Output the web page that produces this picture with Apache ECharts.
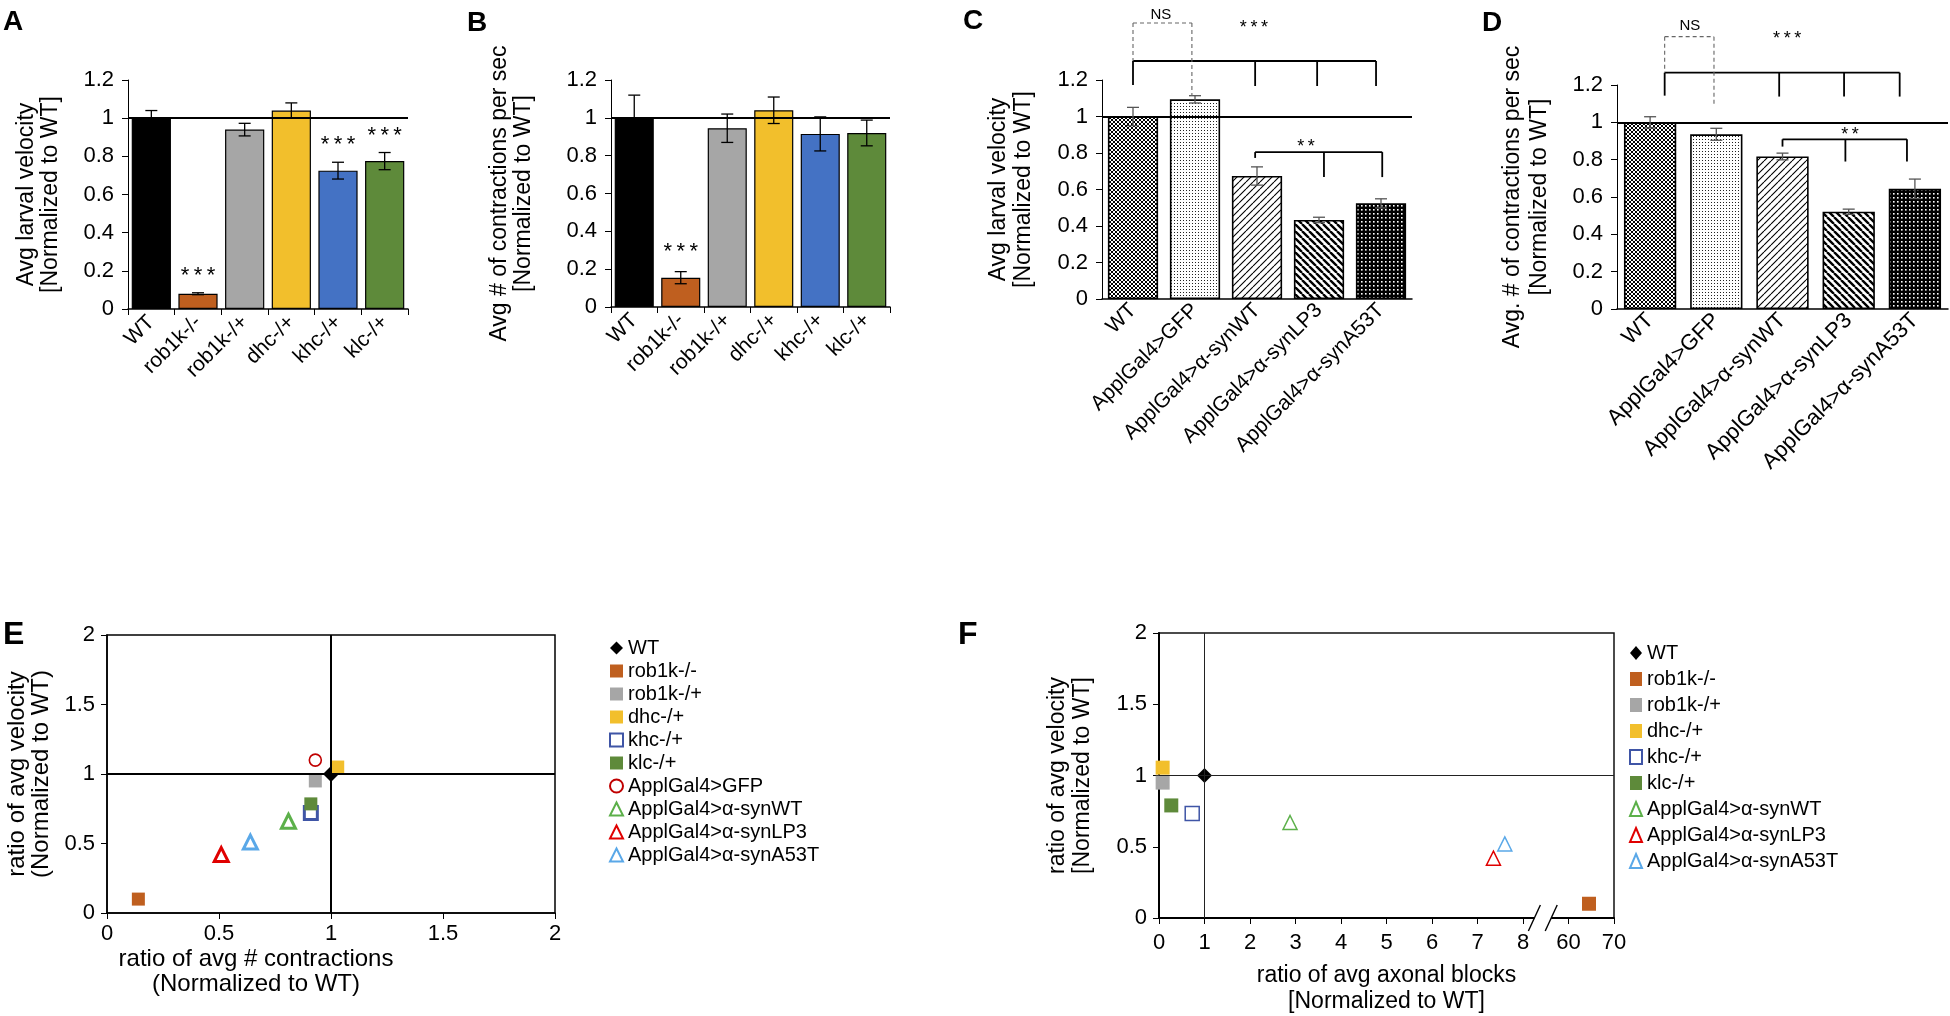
<!DOCTYPE html>
<html><head><meta charset="utf-8">
<script src="https://cdn.jsdelivr.net/npm/echarts@6/dist/echarts.min.js"></script>
<style>html,body{margin:0;padding:0;background:#fff}#c{width:1950px;height:1016px}</style>
</head><body><div id="c"></div>
<script>
const FONT = '"Liberation Sans", Arial, Helvetica, sans-serif';

// ---------- Panels A / B ----------
const catsAB = ['WT', 'rob1k-/-', 'rob1k-/+', 'dhc-/+', 'khc-/+', 'klc-/+'];
const velA = [1.0, 0.08, 0.94, 1.04, 0.725, 0.775];
const errA = [0.04, 0.005, 0.033, 0.04, 0.044, 0.045];
const sigA = ['', '***', '', '', '***', '***'];
const contrB = [1.0, 0.155, 0.945, 1.04, 0.915, 0.92];
const errB = [0.12, 0.032, 0.075, 0.07, 0.09, 0.068];
const sigB = ['', '***', '', '', '', ''];
const colorsAB = ['#000000', '#bf5f1f', '#a6a6a6', '#f2bf2c', '#4472c4', '#5e8a3a'];

// ---------- Panels C / D ----------
const catsCD = ['WT', 'ApplGal4>GFP', 'ApplGal4>α-synWT', 'ApplGal4>α-synLP3', 'ApplGal4>α-synA53T'];
const velC = [1.0, 1.094, 0.674, 0.433, 0.524];
const errC = [0.05, 0.02, 0.05, 0.015, 0.025];
const contrD = [1.0, 0.936, 0.817, 0.521, 0.644];
const errD = [0.03, 0.032, 0.018, 0.014, 0.052];
const patternsCD = ['cross', 'dots', 'fwd', 'back', 'dark'];

// significance brackets (category index, value)
const bracketsC = [
  { x1: 0, x2: 3.92, y: 1.304, legs: [[0, 1.173], [1.97, 1.167], [2.97, 1.167], [3.92, 1.167]], dashed: false },
  { x1: 0, x2: 0.95, y: 1.512, legs: [[0, 1.304], [0.95, 1.112]], dashed: true },
  { x1: 1.97, x2: 4.02, y: 0.805, legs: [[1.97, 0.773], [3.08, 0.668], [4.02, 0.668]], dashed: false }
];
const sigTextC = [['NS', 0.45, 1.556], ['***', 1.95, 1.5], ['**', 2.79, 0.85]];
const bracketsD = [
  { x1: 0.22, x2: 3.77, y: 1.266, legs: [[0.22, 1.143], [1.95, 1.138], [2.93, 1.138], [3.77, 1.138]], dashed: false },
  { x1: 0.22, x2: 0.965, y: 1.459, legs: [[0.22, 1.266], [0.965, 1.084]], dashed: true },
  { x1: 2.0, x2: 3.88, y: 0.909, legs: [[2.0, 0.87], [2.95, 0.79], [3.88, 0.79]], dashed: false }
];
const sigTextD = [['NS', 0.6, 1.516], ['***', 2.07, 1.462], ['**', 3.02, 0.949]];

// ---------- Panel E ----------
const groupsE = ['WT', 'rob1k-/-', 'rob1k-/+', 'dhc-/+', 'khc-/+', 'klc-/+', 'ApplGal4>GFP',
  'ApplGal4>α-synWT', 'ApplGal4>α-synLP3', 'ApplGal4>α-synA53T'];
const contrE = [1.0, 0.14, 0.93, 1.03, 0.91, 0.91, 0.93, 0.81, 0.51, 0.64];
const velE = [1.0, 0.10, 0.95, 1.05, 0.72, 0.785, 1.10, 0.66, 0.42, 0.51];

// ---------- Panel F ----------
const groupsF = ['WT', 'rob1k-/-', 'rob1k-/+', 'dhc-/+', 'khc-/+', 'klc-/+',
  'ApplGal4>α-synWT', 'ApplGal4>α-synLP3', 'ApplGal4>α-synA53T'];
const blocksF = [1.0, 64.5, 0.08, 0.08, 0.73, 0.27, 2.88, 7.35, 7.6];
const velF = [1.0, 0.10, 0.95, 1.055, 0.733, 0.79, 0.67, 0.42, 0.52];
const xTicksF = ['0', '1', '2', '3', '4', '5', '6', '7', '8', '60', '70'];

// marker styles by group
const markerStyle = {
  'WT': { symbol: 'diamond', color: '#000', open: false },
  'rob1k-/-': { symbol: 'rect', color: '#bf5f1f', open: false },
  'rob1k-/+': { symbol: 'rect', color: '#a6a6a6', open: false },
  'dhc-/+': { symbol: 'rect', color: '#f2bf2c', open: false },
  'khc-/+': { symbol: 'rect', color: '#3f55a6', open: true },
  'klc-/+': { symbol: 'rect', color: '#5e8a3a', open: false },
  'ApplGal4>GFP': { symbol: 'circle', color: '#c00000', open: true },
  'ApplGal4>α-synWT': { symbol: 'triangle', color: '#5cb04a', open: true },
  'ApplGal4>α-synLP3': { symbol: 'triangle', color: '#e00000', open: true },
  'ApplGal4>α-synA53T': { symbol: 'triangle', color: '#5aa8e8', open: true }
};

// broken axis mapping for panel F (0..8 linear, then 60..70 compressed)
const fx = x => (x <= 8 ? x : 9 + (x - 60) / 10);

function makePattern(kind) {
  const s = { cross: 4, dots: 3, fwd: 7, back: 7, dark: 4 }[kind];
  const c = document.createElement('canvas');
  c.width = s; c.height = s;
  const g = c.getContext('2d');
  g.fillStyle = kind === 'dark' ? '#000' : '#fff';
  g.fillRect(0, 0, s, s);
  g.strokeStyle = '#000';
  const slash = (dir, w) => {
    g.lineWidth = w;
    g.beginPath();
    for (let k = -1; k <= 1; k++) {
      if (dir > 0) { g.moveTo(k * s, s); g.lineTo(k * s + s, 0); }
      else { g.moveTo(k * s, 0); g.lineTo(k * s + s, s); }
    }
    g.stroke();
  };
  if (kind === 'cross') { slash(1, 1.0); slash(-1, 1.0); }
  if (kind === 'dots') { g.fillStyle = '#222'; g.fillRect(1, 1, 1, 1); }
  if (kind === 'fwd') slash(1, 1.1);
  if (kind === 'back') slash(-1, 2.4);
  if (kind === 'dark') { g.fillStyle = '#fff'; g.fillRect(1, 1, 1.6, 1.6); }
  return { image: c, repeat: 'repeat' };
}

const refLine = (w) => ({
  silent: true, symbol: 'none', label: { show: false },
  lineStyle: { color: '#000', width: w, type: 'solid' }, data: [{ yAxis: 1 }]
});

function errSeries(gi, vals, errs, sig, color, capHalf, sigOff, sigSize) {
  return {
    type: 'custom', xAxisIndex: gi, yAxisIndex: gi, z: 5, silent: true,
    data: vals.map((v, i) => [i, v, errs[i]]),
    renderItem(params, api) {
      const i = api.value(0), v = api.value(1), e = api.value(2);
      const t = api.coord([i, v + e]), b = api.coord([i, v - e]);
      const st = { stroke: color, lineWidth: 1.3 };
      const ch = [
        { type: 'line', shape: { x1: t[0], y1: t[1], x2: b[0], y2: b[1] }, style: st },
        { type: 'line', shape: { x1: t[0] - capHalf, y1: t[1], x2: t[0] + capHalf, y2: t[1] }, style: st },
        { type: 'line', shape: { x1: b[0] - capHalf, y1: b[1], x2: b[0] + capHalf, y2: b[1] }, style: st }
      ];
      const s = sig && sig[params.dataIndex];
      if (s) ch.push({ type: 'text', x: t[0], y: t[1] - sigOff,
        style: { text: s.split('').join('\u2009'), fill: '#000', fontSize: sigSize, fontFamily: FONT, align: 'center', verticalAlign: 'middle' } });
      return { type: 'group', children: ch };
    }
  };
}

function catPt(api, x, y) {
  const p0 = api.coord([0, y]), p1 = api.coord([1, y]);
  return [p0[0] + x * (p1[0] - p0[0]), p0[1]];
}

function bracketSeries(gi, brackets) {
  return {
    type: 'custom', xAxisIndex: gi, yAxisIndex: gi, z: 6, silent: true, clip: false,
    data: brackets.map((b, i) => [0, 0, i]),
    renderItem(params, api) {
      const b = brackets[params.dataIndex];
      const style = b.dashed ? { stroke: '#666', lineWidth: 1.1, lineDash: [4, 3] } : { stroke: '#000', lineWidth: 1.8 };
      const p1 = catPt(api, b.x1, b.y), p2 = catPt(api, b.x2, b.y);
      const ch = [{ type: 'line', shape: { x1: p1[0], y1: p1[1], x2: p2[0], y2: p2[1] }, style }];
      b.legs.forEach(([x, yb]) => {
        const a = catPt(api, x, b.y), d = catPt(api, x, yb);
        ch.push({ type: 'line', shape: { x1: a[0], y1: a[1], x2: d[0], y2: d[1] }, style });
      });
      return { type: 'group', children: ch };
    }
  };
}

function sigTextSeries(gi, texts) {
  return {
    type: 'custom', xAxisIndex: gi, yAxisIndex: gi, z: 7, silent: true, clip: false,
    data: texts.map((t, i) => [0, 0, i]),
    renderItem(params, api) {
      const [s, x, y] = texts[params.dataIndex];
      const p = catPt(api, x, y);
      const isNS = s === 'NS';
      return { type: 'text', x: p[0], y: p[1] + (isNS ? 0 : 3),
        style: { text: isNS ? s : s.split('').join('\u2009'), fill: '#000', fontSize: isNS ? 15 : 18,
          fontFamily: FONT, align: 'center', verticalAlign: 'middle' } };
    }
  };
}

const txt = { color: '#000', fontFamily: FONT };

function catXAxis(gi, cats, ticks, fs, margin) {
  return {
    type: 'category', gridIndex: gi, data: cats, boundaryGap: true,
    axisLine: { lineStyle: { color: '#000', width: 1.5 } },
    axisTick: { show: ticks, length: 6, lineStyle: { color: '#000' } },
    axisLabel: Object.assign({ rotate: 45, fontSize: fs, margin, interval: 0 }, txt),
    splitLine: { show: false }
  };
}
function barYAxis(gi, name, gap, fs, lh) {
  return {
    type: 'value', gridIndex: gi, min: 0, max: 1.2, interval: 0.2,
    axisLine: { show: true, lineStyle: { color: '#000', width: 1 } },
    axisTick: { show: true, length: 6, lineStyle: { color: '#000' } },
    axisLabel: Object.assign({ fontSize: 22, margin: 14 }, txt),
    splitLine: { show: false },
    name, nameLocation: 'middle', nameRotate: 90, nameGap: gap,
    nameTextStyle: Object.assign({ fontSize: fs, lineHeight: lh }, txt)
  };
}

function scatterSeries(gi, names, xs, ys, thick, sizes, nameSuffix, xmap) {
  return names.map((n, i) => {
    const m = markerStyle[n];
    const sz = sizes[m.symbol];
    return {
      type: 'scatter', name: n + nameSuffix, xAxisIndex: gi, yAxisIndex: gi,
      symbol: m.symbol, symbolSize: sz, z: 3 + i * 0.01,
      data: [[xmap(xs[i]), ys[i]]],
      itemStyle: m.open ? { color: '#fff', borderColor: m.color, borderWidth: m.symbol === 'circle' ? 1.6 : thick, opacity: 1 }
                        : { color: m.color, opacity: 1 }
    };
  });
}

const seriesE = scatterSeries(4, groupsE, contrE, velE, 3,
  { diamond: 16, rect: 13, circle: 12, triangle: 14 }, '', x => x);
seriesE[0].markLine = {
  silent: true, symbol: 'none', label: { show: false },
  lineStyle: { color: '#000', width: 2, type: 'solid' }, data: [{ xAxis: 1 }, { yAxis: 1 }]
};
seriesE[0].z = 2.5;

const seriesF = scatterSeries(5, groupsF, blocksF, velF, 1.5,
  { diamond: 15, rect: 14, circle: 12, triangle: [14, 14] }, ' ', fx);
seriesF[0].markLine = {
  silent: true, symbol: 'none', label: { show: false },
  lineStyle: { color: '#222', width: 1, type: 'solid' }, data: [{ xAxis: 1 }, { yAxis: 1 }]
};

const breakF = {
  type: 'custom', xAxisIndex: 5, yAxisIndex: 5, z: 8, silent: true, clip: false,
  data: [[8.25, 0, 8.62]],
  renderItem(params, api) {
    const a = api.coord([api.value(0), 0]), b = api.coord([api.value(2), 0]);
    const st = { stroke: '#000', lineWidth: 1.4 };
    return { type: 'group', children: [
      { type: 'rect', shape: { x: a[0], y: a[1] - 3, width: b[0] - a[0], height: 6 }, style: { fill: '#fff' } },
      { type: 'line', shape: { x1: a[0] - 6, y1: a[1] + 13, x2: a[0] + 6, y2: a[1] - 13 }, style: st },
      { type: 'line', shape: { x1: b[0] - 6, y1: b[1] + 13, x2: b[0] + 6, y2: b[1] - 13 }, style: st }
    ] };
  }
};

const barsA = { type: 'bar', xAxisIndex: 0, yAxisIndex: 0, barCategoryGap: '16%',
  data: velA.map((v, i) => ({ value: v, itemStyle: { color: colorsAB[i] } })),
  itemStyle: { borderColor: '#000', borderWidth: 1.2 }, markLine: refLine(2) };
const barsB = { type: 'bar', xAxisIndex: 1, yAxisIndex: 1, barCategoryGap: '16%',
  data: contrB.map((v, i) => ({ value: v, itemStyle: { color: colorsAB[i] } })),
  itemStyle: { borderColor: '#000', borderWidth: 1.2 }, markLine: refLine(2) };
const barsC = { type: 'bar', xAxisIndex: 2, yAxisIndex: 2, barCategoryGap: '19%',
  data: velC.map((v, i) => ({ value: v, itemStyle: { color: makePattern(patternsCD[i]) } })),
  itemStyle: { borderColor: '#000', borderWidth: 1.6 }, markLine: refLine(2) };
const barsD = { type: 'bar', xAxisIndex: 3, yAxisIndex: 3, barCategoryGap: '21%',
  data: contrD.map((v, i) => ({ value: v, itemStyle: { color: makePattern(patternsCD[i]) } })),
  itemStyle: { borderColor: '#000', borderWidth: 1.6 }, markLine: refLine(2) };

const panelLetter = (t, left, top, fs) => ({ type: 'text', left, top,
  style: { text: t, fontSize: fs, fontWeight: 'bold', fill: '#000', fontFamily: FONT } });

const option = {
  animation: false,
  backgroundColor: '#fff',
  textStyle: { fontFamily: FONT },
  grid: [
    { left: 128, top: 80, width: 280, height: 229 },
    { left: 611, top: 80, width: 279, height: 227 },
    { left: 1102, top: 80, width: 310, height: 219 },
    { left: 1617, top: 85, width: 331, height: 224 },
    { left: 107, top: 635, width: 448, height: 278, show: true, borderColor: '#000', borderWidth: 1.5 },
    { left: 1159, top: 633, width: 455, height: 287, show: true, borderColor: '#111', borderWidth: 1.5 }
  ],
  xAxis: [
    catXAxis(0, catsAB, true, 21, 10),
    catXAxis(1, catsAB, true, 21, 10),
    catXAxis(2, catsCD, false, 21, 8),
    catXAxis(3, catsCD, false, 22, 8),
    { type: 'value', gridIndex: 4, min: 0, max: 2, interval: 0.5,
      axisLine: { lineStyle: { color: '#000', width: 1.5 } },
      axisTick: { show: true, length: 6, lineStyle: { color: '#000' } },
      axisLabel: Object.assign({ fontSize: 22, margin: 10 }, txt), splitLine: { show: false },
      name: 'ratio of avg # contractions\n(Normalized to WT)', nameLocation: 'middle', nameGap: 34,
      nameTextStyle: Object.assign({ fontSize: 24, lineHeight: 25, padding: [0, 150, 0, 0] }, txt) },
    { type: 'value', gridIndex: 5, min: 0, max: 10, interval: 1,
      axisLine: { lineStyle: { color: '#000', width: 2 } },
      axisTick: { show: true, length: 6, lineStyle: { color: '#000' } },
      axisLabel: Object.assign({ fontSize: 22, margin: 14, formatter: v => xTicksF[Math.round(v)] }, txt),
      splitLine: { show: false },
      name: 'ratio of avg axonal blocks\n[Normalized to WT]', nameLocation: 'middle', nameGap: 45,
      nameTextStyle: Object.assign({ fontSize: 23, lineHeight: 26 }, txt) }
  ],
  yAxis: [
    barYAxis(0, 'Avg larval velocity\n[Normalized to WT]', 65, 23, 24),
    barYAxis(1, 'Avg # of contractions per sec\n[Normalized to WT]', 75, 23, 24),
    barYAxis(2, 'Avg larval velocity\n[Normalized to WT]', 66, 23, 25),
    barYAxis(3, 'Avg. # of contractions per sec\n[Normalized to WT]', 64, 23, 27),
    { type: 'value', gridIndex: 4, min: 0, max: 2, interval: 0.5,
      axisLine: { lineStyle: { color: '#000', width: 1.5 } },
      axisTick: { show: true, length: 6, lineStyle: { color: '#000' } },
      axisLabel: Object.assign({ fontSize: 22, margin: 12 }, txt), splitLine: { show: false },
      name: 'ratio of avg velocity\n(Normalized to WT)', nameLocation: 'middle', nameRotate: 90, nameGap: 54,
      nameTextStyle: Object.assign({ fontSize: 24, lineHeight: 24 }, txt) },
    { type: 'value', gridIndex: 5, min: 0, max: 2, interval: 0.5,
      axisLine: { lineStyle: { color: '#000', width: 2 } },
      axisTick: { show: true, length: 6, lineStyle: { color: '#000' } },
      axisLabel: Object.assign({ fontSize: 22, margin: 12 }, txt), splitLine: { show: false },
      name: 'ratio of avg velocity\n[Normalized to WT]', nameLocation: 'middle', nameRotate: 90, nameGap: 64,
      nameTextStyle: Object.assign({ fontSize: 23, lineHeight: 25 }, txt) }
  ],
  legend: [
    { orient: 'vertical', left: 604, top: 633, itemWidth: 13, itemHeight: 13, itemGap: 3, selectedMode: false,
      textStyle: Object.assign({ fontSize: 20 }, txt), data: groupsE },
    { orient: 'vertical', left: 1624, top: 638, itemWidth: 12, itemHeight: 14, itemGap: 6, selectedMode: false,
      textStyle: Object.assign({ fontSize: 20 }, txt), data: groupsF.map(n => n + ' '),
      formatter: n => n.trim() }
  ],
  graphic: [
    panelLetter('A', 3, 8, 28), panelLetter('B', 467, 9, 28), panelLetter('C', 963, 7, 28),
    panelLetter('D', 1482, 9, 28), panelLetter('E', 3, 619, 32), panelLetter('F', 958, 619, 32)
  ],
  series: [
    barsA, barsB, barsC, barsD,
    errSeries(0, velA, errA, sigA, '#000', 6, 17, 22),
    errSeries(1, contrB, errB, sigB, '#000', 6, 20, 22),
    errSeries(2, velC, errC, null, '#555', 6, 0, 0),
    errSeries(3, contrD, errD, null, '#555', 6, 0, 0),
    bracketSeries(2, bracketsC), sigTextSeries(2, sigTextC),
    bracketSeries(3, bracketsD), sigTextSeries(3, sigTextD),
    ...seriesE, ...seriesF, breakF
  ]
};

const chart = echarts.init(document.getElementById('c'), null, { renderer: 'canvas' });
chart.setOption(option);
</script>
</body></html>
